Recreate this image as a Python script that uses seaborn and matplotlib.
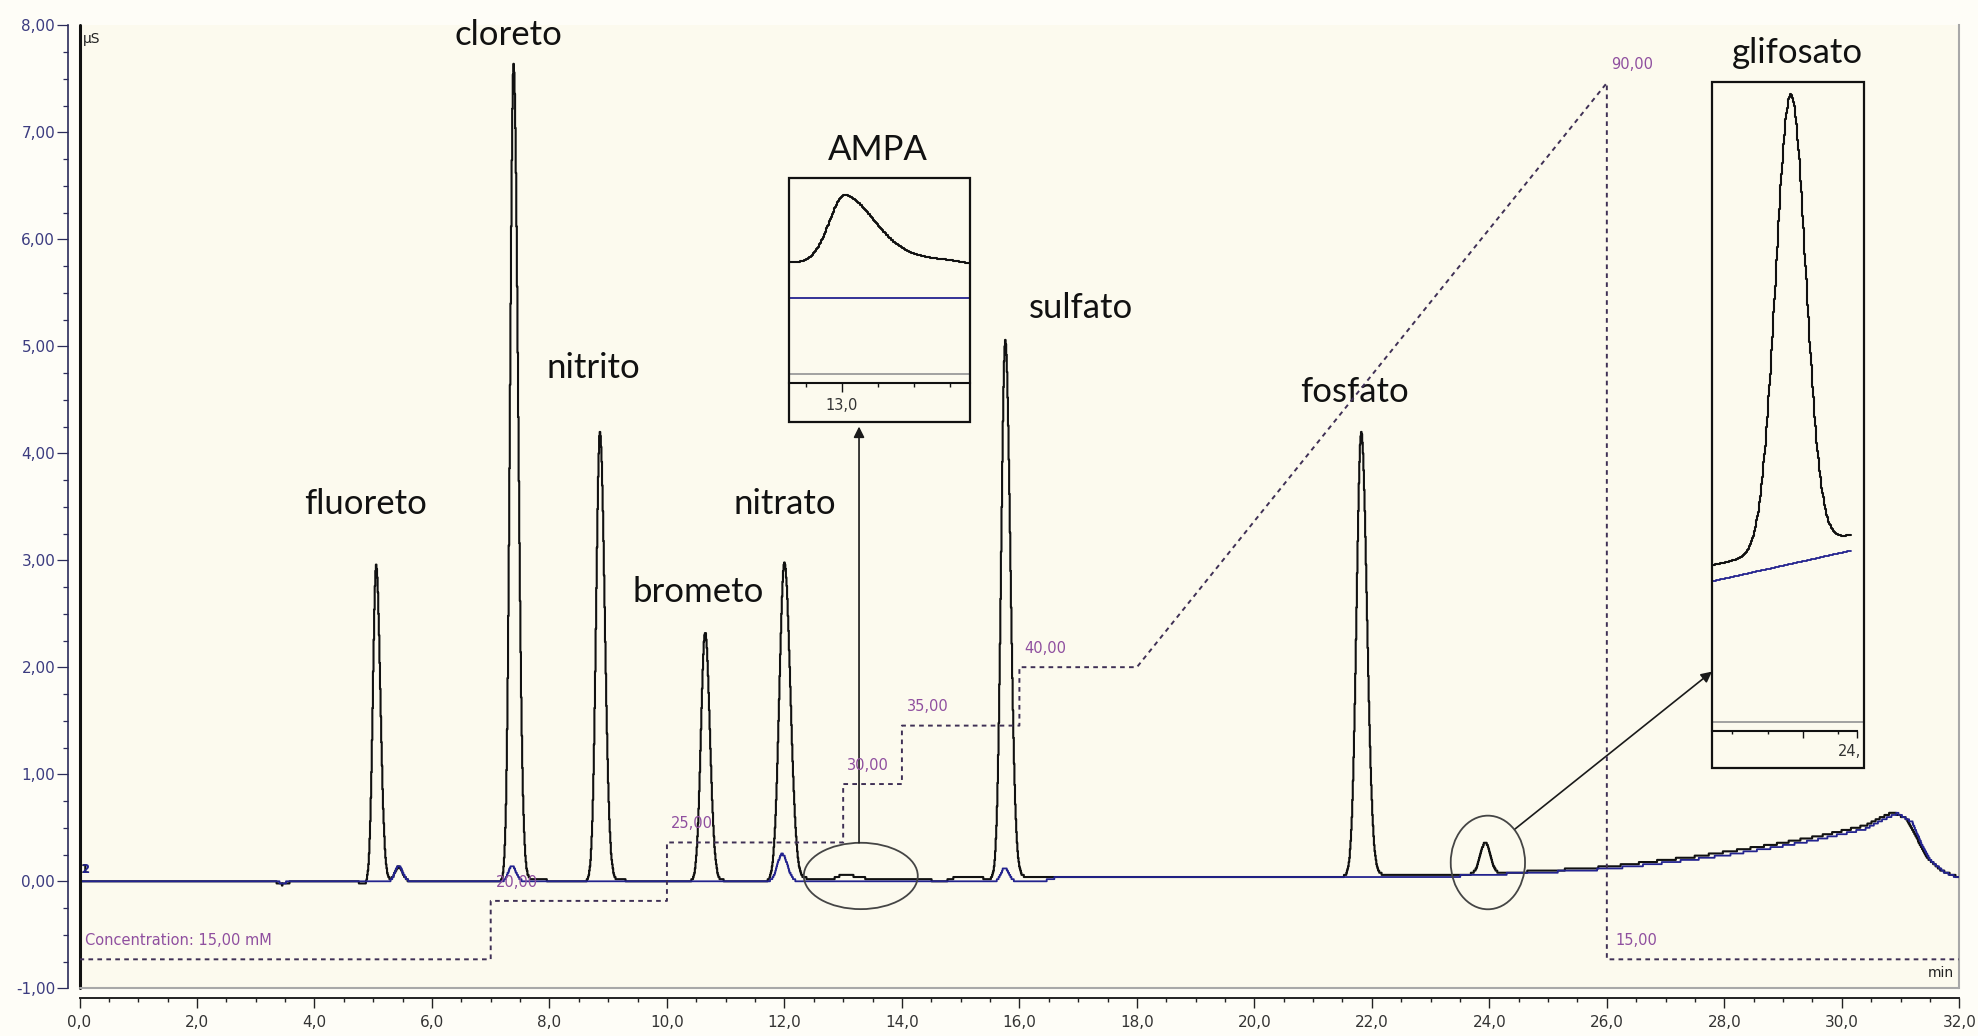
import numpy as np
import pandas as pd
import matplotlib
matplotlib.use("Agg")
import matplotlib.pyplot as plt
import seaborn as sns
from matplotlib.patches import Ellipse, Rectangle
from matplotlib.ticker import MultipleLocator, FuncFormatter, FixedLocator, NullFormatter

# ---------------------------------------------------------------------------
# Sample run (black trace): retention time [min], height above baseline [µS],
# left / right peak width, exponential tail fraction and tail constant
black_rt     = [5.05, 5.43, 7.39, 8.86, 10.65, 12.00, 13.02, 15.76, 21.82, 23.93]
black_height = [2.96, 0.13, 7.64, 4.20, 2.33, 2.98, 0.045, 5.03, 4.15, 0.29]
black_sig_l  = [0.055, 0.06, 0.06, 0.065, 0.07, 0.085, 0.09, 0.07, 0.08, 0.085]
black_sig_r  = [0.07, 0.07, 0.075, 0.08, 0.08, 0.10, 0.16, 0.085, 0.095, 0.085]
black_tail   = [0.010, 0.0, 0.006, 0.008, 0.010, 0.006, 0.30, 0.006, 0.006, 0.0]
black_tau    = [0.30, 0.30, 0.45, 0.40, 0.35, 0.40, 0.50, 0.40, 0.40, 0.30]

# Blank run (blue trace) peaks
blue_rt     = [5.43, 7.36, 11.96, 15.75]
blue_height = [0.145, 0.145, 0.255, 0.125]
blue_sig_l  = [0.06, 0.06, 0.08, 0.06]
blue_sig_r  = [0.07, 0.07, 0.09, 0.07]
blue_tail   = [0.0, 0.0, 0.0, 0.0]
blue_tau    = [0.3, 0.3, 0.3, 0.3]

# Baseline drift of each run [min], [µS]
black_base_t = [0.0, 0.80, 0.88, 3.35, 3.45, 3.58, 4.75, 4.85, 4.95, 12.20,
                12.35, 13.60, 14.50, 14.58, 14.70, 14.78, 14.90, 15.35, 15.45, 16.40,
                19.35, 19.45, 21.50, 22.60, 23.50, 24.30, 25.00, 26.00, 26.70, 27.50,
                28.10, 28.90, 29.60, 30.40, 30.65, 30.87, 31.10, 31.30, 31.45, 31.70,
                32.00]
black_base_v = [0.0, 0.0, -0.01, -0.01, -0.03, -0.01, -0.01, -0.03, -0.005, 0.0,
                0.02, 0.02, 0.01, -0.01, -0.01, 0.01, 0.035, 0.035, 0.02, 0.035,
                0.03, 0.04, 0.045, 0.06, 0.06, 0.08, 0.10, 0.135, 0.18, 0.23,
                0.28, 0.35, 0.42, 0.52, 0.59, 0.645, 0.585, 0.38, 0.22, 0.10,
                0.035]
blue_base_t = [0.0, 3.35, 3.45, 3.58, 16.40, 16.60, 19.35, 19.45, 21.50, 22.60,
               23.50, 24.30, 25.00, 26.00, 26.70, 27.50, 28.10, 28.90, 29.60, 30.40,
               30.70, 30.95, 31.20, 31.35, 31.50, 31.75, 32.00]
blue_base_v = [0.0, 0.0, -0.02, 0.0, 0.0, 0.03, 0.03, 0.04, 0.045, 0.05,
               0.05, 0.07, 0.085, 0.115, 0.155, 0.205, 0.25, 0.32, 0.39, 0.49,
               0.575, 0.635, 0.55, 0.36, 0.20, 0.085, 0.03]

# Eluent gradient program (KOH, mM)
grad_time = [0, 7, 7, 10, 10, 13, 13, 14, 14, 16, 16, 18, 26, 26, 32]
grad_conc = [15, 15, 20, 20, 25, 25, 30, 30, 35, 35, 40, 40, 90, 15, 15]
grad_label_time = [0.09, 7.09, 10.07, 13.06, 14.09, 16.09, 26.08, 26.15]
grad_label_conc = [15, 20, 25, 30, 35, 40, 90, 15]

# Analyte names and where they are written
analyte_names = ["fluoreto", "cloreto", "nitrito", "brometo", "nitrato",
                 "AMPA", "sulfato", "fosfato", "glifosato"]
analyte_x = [4.87, 7.31, 8.74, 10.53, 12.01, 13.59, 17.05, 21.71, 29.25]
analyte_y = [3.43, 7.82, 4.70, 2.61, 3.43, 6.74, 5.26, 4.48, 7.65]

# ---------------------------------------------------------------------------
def chromatogram(t, base_t, base_v, rt, h, sl, sr, tail, tau):
    y = np.interp(t, base_t, base_v)
    for i in range(len(rt)):
        d = t - rt[i]
        dp = np.clip(d, 0, None)
        left = np.exp(-0.5 * (d / sl[i]) ** 2)
        right = (1 - tail[i]) * np.exp(-0.5 * (dp / sr[i]) ** 2) + tail[i] * np.exp(-dp / tau[i])
        y = y + h[i] * np.where(d < 0, left, right)
    return y


def traces(t):
    return pd.DataFrame({
        "time": t,
        "sample": chromatogram(t, black_base_t, black_base_v, black_rt, black_height,
                               black_sig_l, black_sig_r, black_tail, black_tau),
        "blank": chromatogram(t, blue_base_t, blue_base_v, blue_rt, blue_height,
                              blue_sig_l, blue_sig_r, blue_tail, blue_tau),
    })


W, H = 1978, 1036
BG = "#fcfaee"
BLACK = "#111111"
NAVY = "#23238f"
PURPLE = "#8f4f9f"
DASH = "#3f3055"

sns.set_theme(style="white")
plt.rcParams["font.family"] = ["DejaVu Sans"]
plt.rcParams["axes.unicode_minus"] = False

fig = plt.figure(figsize=(W / 100, H / 100), dpi=100, facecolor="#fefdf7")
ax = fig.add_axes([79.5 / W, 1 - 988.3 / H, 1879.8 / W, 963.0 / H])
ax.set_facecolor(BG)

# main traces, drawn at the detector's display resolution
t_main = np.round(np.arange(0, 32.0001, 0.01), 4)
df = traces(t_main)
step = 0.02
df["sample_disp"] = np.round(df["sample"] / step) * step
df["blank_disp"] = np.round(df["blank"] / step) * step

sns.lineplot(data=df, x="time", y="sample_disp", ax=ax, color=BLACK, lw=1.5,
             drawstyle="steps-mid", estimator=None, sort=False, zorder=3)
sns.lineplot(data=df, x="time", y="blank_disp", ax=ax, color=NAVY, lw=1.3,
             drawstyle="steps-mid", estimator=None, sort=False, zorder=4)

ax.set_xlim(0, 32)
ax.set_ylim(-1, 8)
ax.set_xlabel("")
ax.set_ylabel("")

comma2 = FuncFormatter(lambda v, p: f"{v:.2f}".replace(".", ","))
comma1 = FuncFormatter(lambda v, p: f"{v:.1f}".replace(".", ","))

ax.yaxis.set_major_locator(MultipleLocator(1))
ax.yaxis.set_minor_locator(MultipleLocator(0.25))
ax.yaxis.set_major_formatter(comma2)
ax.xaxis.set_major_locator(MultipleLocator(2))
ax.xaxis.set_minor_locator(MultipleLocator(0.5))
ax.xaxis.set_major_formatter(comma1)

ax.spines["top"].set_visible(False)
ax.spines["right"].set_color("#a8a8a8")
ax.spines["right"].set_linewidth(1.5)
ax.spines["left"].set_position(("outward", 8))
ax.spines["left"].set_color("#2b2b5a")
ax.spines["left"].set_linewidth(1.2)
ax.spines["bottom"].set_position(("outward", 7))
ax.spines["bottom"].set_color("#222222")
ax.spines["bottom"].set_linewidth(1.4)

ax.tick_params(axis="y", which="major", direction="out", length=8, width=0.9,
               color="#2b2b5a", labelcolor="#3c3c80", labelsize=11, pad=1.5, left=True)
ax.tick_params(axis="y", which="minor", direction="out", length=3.6, width=0.9,
               color="#2b2b5a", left=True)
ax.tick_params(axis="x", which="major", direction="out", length=7, width=1.0,
               color="#222222", labelcolor="#333333", labelsize=11, pad=5, bottom=True)
ax.tick_params(axis="x", which="minor", direction="out", length=3, width=1.0,
               color="#222222", bottom=True)

# plot-area frame: black left border, grey bottom border
ax.axvline(0, color=BLACK, lw=2.2, clip_on=False, zorder=5)
ax.axhline(-1, color="#a8a8a8", lw=1.5, clip_on=False, zorder=5)

ax.text(0.06, 7.87, "µS", fontsize=10, color="#222222", va="center", ha="left")
ax.text(31.9, -0.854, "min", fontsize=10, color="#222222", va="center", ha="right")
ax.text(0.02, 0.11, "1", fontsize=8.5, fontweight="bold", color=BLACK, va="center")
ax.text(0.02, 0.11, "2", fontsize=8.5, fontweight="bold", color=NAVY, va="center")

# gradient program on its own concentration scale
ax2 = ax.twinx()
ax2.set_ylim(12.52, 94.93)
sns.lineplot(x=grad_time, y=grad_conc, ax=ax2, color=DASH, lw=1.4,
             estimator=None, sort=False, dashes=False, zorder=2)
ax2.lines[0].set_dashes((2.4, 2.2))
ax2.set_yticks([])
ax2.set_ylabel("")
for s in ax2.spines.values():
    s.set_visible(False)
for i, (lt, lc) in enumerate(zip(grad_label_time, grad_label_conc)):
    txt = f"{lc:.2f}".replace(".", ",")
    if i == 0:
        txt = "Concentration: " + txt + " mM"
    ax2.text(lt, lc + 1.6, txt, fontsize=10.5, color=PURPLE, ha="left", va="center")

# analyte names
for name, x, y in zip(analyte_names, analyte_x, analyte_y):
    ax.text(x, y, name, fontsize=25, family=["Lato", "DejaVu Sans"], color=BLACK,
            ha="center", va="baseline", zorder=6)

# highlighted regions and arrows to the enlargements
ax.add_patch(Ellipse((13.30, 0.05), 1.94, 0.62, fill=False, ec="#454545", lw=1.3, zorder=6))
ax.add_patch(Ellipse((23.975, 0.176), 1.265, 0.875, fill=False, ec="#454545", lw=1.3, zorder=6))
arrow = dict(arrowstyle="-|>", color="#1a1a1a", lw=1.2, mutation_scale=16, shrinkA=0, shrinkB=0)
ax.annotate("", xy=(13.27, 4.25), xytext=(13.27, 0.36), arrowprops=arrow, zorder=6)
ax.annotate("", xy=(27.79, 1.96), xytext=(24.44, 0.49), arrowprops=arrow, zorder=6)

# ---------------------------------------------------------------------------
# Enlargement of the AMPA region
axa = fig.add_axes([789 / W, 1 - 383 / H, 181 / W, 205 / H])
axa.set_facecolor("none")
t_a = np.round(np.arange(12.70, 13.712, 0.004), 4)
dfa = traces(t_a)
sns.lineplot(data=dfa, x="time", y="sample", ax=axa, color=BLACK, lw=1.5,
             drawstyle="steps-mid", estimator=None, sort=False)
sns.lineplot(data=dfa, x="time", y="blank", ax=axa, color=NAVY, lw=1.3,
             estimator=None, sort=False)
axa.axhline(-0.0488, color="#9a9a9a", lw=1.3)
axa.set_xlim(12.706, 13.711)
axa.set_ylim(-0.0545, 0.0772)
axa.set_xlabel("")
axa.set_ylabel("")
axa.set_yticks([])
for k in ("top", "right", "left"):
    axa.spines[k].set_visible(False)
axa.spines["bottom"].set_color(BLACK)
axa.spines["bottom"].set_linewidth(1.5)
axa.xaxis.set_major_locator(FixedLocator([13.0]))
axa.xaxis.set_minor_locator(FixedLocator([12.8, 13.2, 13.4, 13.6]))
axa.xaxis.set_major_formatter(comma1)
axa.tick_params(axis="x", which="major", direction="out", length=6.5, width=1.0,
                color=BLACK, labelsize=10.5, labelcolor="#333333", pad=4, bottom=True)
axa.tick_params(axis="x", which="minor", direction="out", length=3, width=1.0,
                color=BLACK, bottom=True)
fig.add_artist(Rectangle((789 / W, 1 - 422 / H), 181 / W, 244 / H, transform=fig.transFigure,
                         fill=False, ec=BLACK, lw=1.6))

# Enlargement of the glyphosate region
axg = fig.add_axes([1712.3 / W, 1 - 731 / H, 152 / W, 649.3 / H])
axg.set_facecolor("none")
t_g = np.round(np.arange(23.486, 24.278, 0.004), 4)
dfg = traces(t_g)
sns.lineplot(data=dfg, x="time", y="sample", ax=axg, color=BLACK, lw=1.5,
             drawstyle="steps-mid", estimator=None, sort=False)
sns.lineplot(data=dfg, x="time", y="blank", ax=axg, color=NAVY, lw=1.3,
             drawstyle="steps-mid", estimator=None, sort=False)
axg.axhline(-0.040, color="#9a9a9a", lw=1.3)
axg.set_xlim(23.486, 24.347)
axg.set_ylim(-0.046, 0.369)
axg.set_xlabel("")
axg.set_ylabel("")
axg.set_yticks([])
for k in ("top", "right", "left"):
    axg.spines[k].set_visible(False)
axg.spines["bottom"].set_color(BLACK)
axg.spines["bottom"].set_linewidth(1.5)
axg.spines["bottom"].set_bounds(23.486, 24.305)
axg.xaxis.set_major_locator(FixedLocator([24.0, 24.305]))
axg.xaxis.set_minor_locator(FixedLocator([23.6, 23.8, 24.2]))
axg.xaxis.set_major_formatter(NullFormatter())
axg.tick_params(axis="x", which="major", direction="out", length=5, width=1.0,
                color=BLACK, bottom=True)
axg.tick_params(axis="x", which="minor", direction="out", length=2.5, width=1.0,
                color=BLACK, bottom=True)
fig.text(1838 / W, 1 - 752 / H, "24,", fontsize=10.5, color="#333333", ha="left", va="center")
fig.add_artist(Rectangle((1712.3 / W, 1 - 768 / H), 152 / W, 686.3 / H, transform=fig.transFigure,
                         fill=False, ec=BLACK, lw=1.6))

fig.savefig("out.png", dpi=100, facecolor=fig.get_facecolor())
